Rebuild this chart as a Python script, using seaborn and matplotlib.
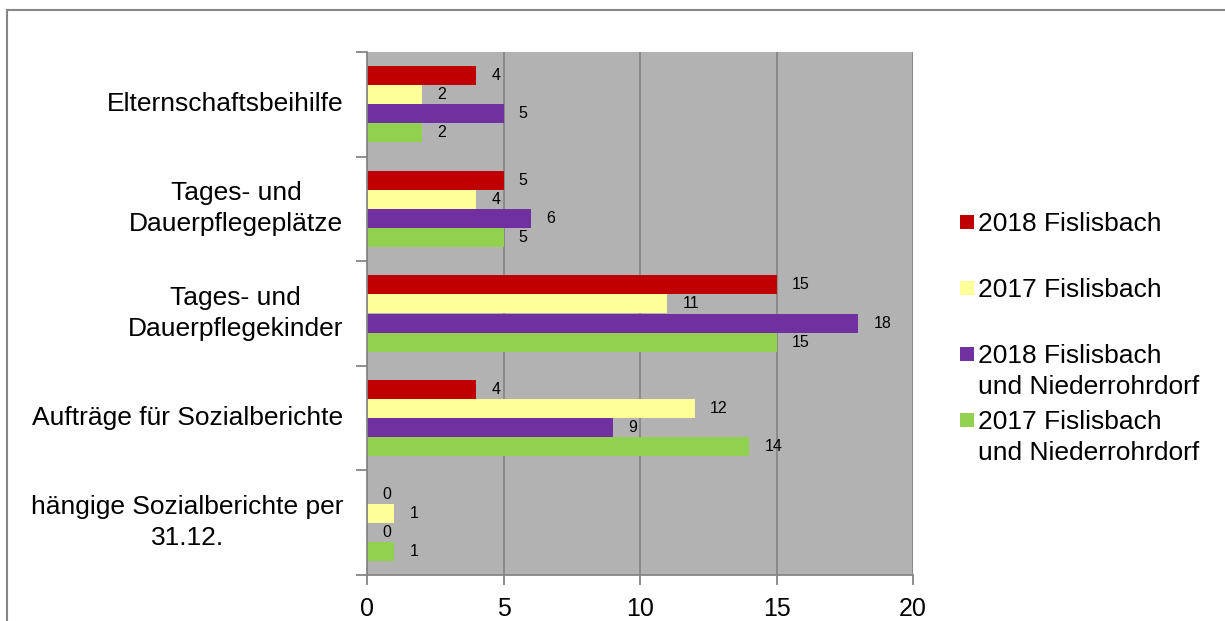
import numpy as np
import pandas as pd
import matplotlib
matplotlib.use("Agg")
import matplotlib.pyplot as plt
import seaborn as sns
from matplotlib.patches import Patch, Rectangle
from matplotlib.legend_handler import HandlerBase

# ---- data ----
categories = [
    "Elternschaftsbeihilfe",
    "Tages- und\nDauerpflegeplätze",
    "Tages- und\nDauerpflegekinder",
    "Aufträge für Sozialberichte",
    "hängige Sozialberichte per\n31.12.",
]
series = [
    "2018 Fislisbach",
    "2017 Fislisbach",
    "2018 Fislisbach\nund Niederrohrdorf",
    "2017 Fislisbach\nund Niederrohrdorf",
]
v2018_fislisbach = [4, 5, 15, 4, 0]
v2017_fislisbach = [2, 4, 11, 12, 1]
v2018_fis_nied = [5, 6, 18, 9, 0]
v2017_fis_nied = [2, 5, 15, 14, 1]
colors = ["#C00000", "#FFFF99", "#7030A0", "#92D050"]
xticks = [0, 5, 10, 15, 20]

values = [v2018_fislisbach, v2017_fislisbach, v2018_fis_nied, v2017_fis_nied]
rows = []
for s, vals in zip(series, values):
    for c, v in zip(categories, vals):
        rows.append({"Kategorie": c, "Serie": s, "Wert": v})
df = pd.DataFrame(rows)

plt.rcParams["font.family"] = ["Liberation Sans", "DejaVu Sans"]

GRAY = "#868686"
LS = 1.4

fig = plt.figure(figsize=(12.25, 6.21), dpi=100)
ax = fig.add_axes([367 / 1225, 1 - 575 / 621, (913 - 367) / 1225, (575 - 52) / 621])

sns.barplot(data=df, y="Kategorie", x="Wert", hue="Serie", order=categories,
            hue_order=series, palette=colors, orient="h", width=0.73,
            dodge=True, legend=False, ax=ax, linewidth=0, saturation=1,
            errorbar=None)

ax.set_facecolor("#B2B2B2")
ax.set_xlim(0, 20)
ax.set_ylim(4.5, -0.5)
ax.set_xticks(xticks)
ax.set_xticklabels([str(t) for t in xticks])
ax.set_xlabel("")
ax.set_ylabel("")
ax.xaxis.grid(True, color=GRAY, lw=1.3)
ax.yaxis.grid(False)
ax.set_axisbelow(True)
for side in ["top", "right"]:
    ax.spines[side].set_visible(False)
for side in ["left", "bottom"]:
    ax.spines[side].set_color(GRAY)
    ax.spines[side].set_linewidth(1.3)

ax.tick_params(axis="x", length=7, width=1.3, color=GRAY, pad=9,
               labelsize=18, labelcolor="black", direction="out")
ax.set_yticks(range(len(categories)))
ax.set_yticklabels(categories, fontsize=19, multialignment="center",
                   linespacing=1.36, va="center")
ax.tick_params(axis="y", which="major", length=0, pad=17)
ax.set_yticks(np.arange(-0.5, len(categories), 1), minor=True)
ax.tick_params(axis="y", which="minor", length=8, width=1.3, color=GRAY,
               direction="out")

for cont in ax.containers:
    ax.bar_label(cont, fmt="{:.0f}", padding=11, fontsize=11.5, color="black")


class SquareHandler(HandlerBase):
    def create_artists(self, legend, orig_handle, xdescent, ydescent,
                       width, height, fontsize, trans):
        s = width
        yc = fontsize * (0.21 + LS * 0.716 + 0.358) - 10.5
        r = Rectangle((-xdescent, yc - s / 2), s, s,
                      facecolor=orig_handle.get_facecolor(),
                      edgecolor="none", transform=trans)
        return [r]


handles = [Patch(facecolor=c) for c in colors]
labels = [s if "\n" in s else s + "\n" for s in series]
leg = fig.legend(handles, labels, handler_map={Patch: SquareHandler()},
                 loc="upper left", bbox_to_anchor=(960 / 1225, 1 - 212 / 621),
                 frameon=False, fontsize=19, handlelength=10 / 19,
                 handletextpad=0.15, labelspacing=0.39, borderpad=0,
                 borderaxespad=0)
for t in leg.get_texts():
    t.set_linespacing(LS)

fig.add_artist(Rectangle((7 / 1225, -0.1), 1.2, 1.1 - 10 / 621,
                         transform=fig.transFigure, fill=False,
                         edgecolor=GRAY, lw=1.5, clip_on=False))

fig.savefig("out.png", dpi=100, facecolor="white")
